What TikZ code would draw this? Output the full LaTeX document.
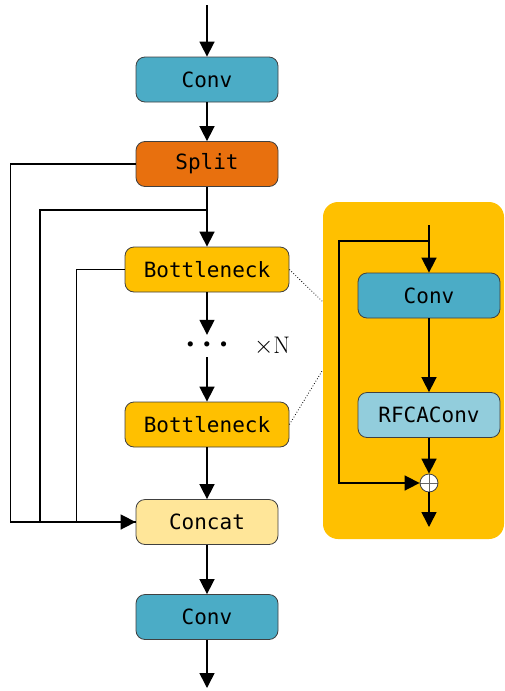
\documentclass[tikz,border=0pt]{standalone}
\usepackage{fontspec}
\setmonofont{DejaVu Sans Mono}
\usetikzlibrary{arrows.meta,calc,fit}
\definecolor{convblue}{HTML}{4BACC6}
\definecolor{splitorange}{HTML}{E8700E}
\definecolor{neckyellow}{HTML}{FFC000}
\definecolor{catyellow}{HTML}{FFE699}
\definecolor{rfcablue}{HTML}{92CDDC}
\tikzset{block/.style={draw=black!75, rectangle, rounded corners=9pt, line width=0.8pt, minimum width=142pt, minimum height=45pt, inner sep=0pt, font=\ttfamily\fontsize{21}{21}\selectfont}}
\tikzset{wide/.style={minimum width=164pt}}
\tikzset{line/.style={draw, line width=1.6pt, -{Triangle[length=15pt,width=15pt]}}}
\tikzset{wire/.style={draw, line width=1.6pt}}
\tikzset{link/.style={draw, dotted, line width=0.8pt}}

\begin{document}
\begin{tikzpicture}[x=1pt, y=-1pt]
\useasboundingbox (0,0) rectangle (504,691);

\node [block, fill=convblue] (conv1) at (207,79.5) {Conv};
\node [block, fill=splitorange, below of=conv1, node distance=84.5pt] (split) {Split};
\node [block, wide, fill=neckyellow, below of=split, node distance=105.5pt] (neck1) {Bottleneck};
\node [below of=neck1, node distance=76.5pt, minimum height=22pt, inner sep=0pt, font=\fontsize{23}{23}\selectfont] (dots) {\textbullet\textbullet\textbullet};
\node [right of=dots, node distance=65pt, font=\fontsize{24}{24}\selectfont] (times) {$\times$N};
\node [block, wide, fill=neckyellow, below of=dots, node distance=78.5pt] (neck2) {Bottleneck};
\node [block, fill=catyellow, below of=neck2, node distance=97.5pt] (concat) {Concat};
\node [block, fill=convblue, below of=concat, node distance=95pt] (conv2) {Conv};

\coordinate (in) at (207,5);
\coordinate (out) at (207,688);
\coordinate (tap) at (207,210);

% BOTTLENECK DETAIL
\node [fill=neckyellow, rounded corners=15pt, minimum width=181pt, minimum height=337pt] (panel) at (413.5,370.5) {};
\node [block, fill=convblue] (iconv) at (429,295.5) {Conv};
\node [block, fill=rfcablue, below of=iconv, node distance=119.5pt] (rfca) {RFCAConv};
\node [draw=black!75, circle, fill=white, minimum size=18pt, inner sep=0pt, line width=0.8pt,
  path picture={\draw[black!60, line width=0.8pt] (path picture bounding box.north) -- (path picture bounding box.south)
  (path picture bounding box.west) -- (path picture bounding box.east);}] (add) at (429,483) {};
\coordinate (itop) at (429,225);
\coordinate (itap) at (429,241);
\coordinate (iout) at (429,527);

%MAIN PATH
\path [line] (in) -- (conv1);
\path [line] (conv1) -- (split);
\path [line] (split) -- (neck1);
\path [line] (neck1) -- (dots);
\path [line] (dots) -- (neck2);
\path [line] (neck2) -- (concat);
\path [line] (concat) -- (conv2);
\path [line] (conv2) -- (out);

%SHORTCUTS TO CONCAT
\path [line] (split.west) -- ++(-125,0) |- (concat.west);
\path [wire] (tap) -- ++(-167,0) |- (concat.west);
\path [wire] (neck1.west) -- ++(-48,0) |- (concat.west);

%INSIDE BOTTLENECK
\path [line] (itop) -- (iconv);
\path [line] (iconv) -- (rfca);
\path [line] (rfca) -- (add);
\path [line] (itap) -- ++(-90,0) |- (add.west);
\path [line] (add) -- (iout);

%ZOOM LINES
\path [link] (neck1.east) -- ($(panel.north west)+(0,100)$);
\path [link] (neck2.east) -- ($(panel.north west)+(0,168)$);

\end{tikzpicture}
\end{document}
